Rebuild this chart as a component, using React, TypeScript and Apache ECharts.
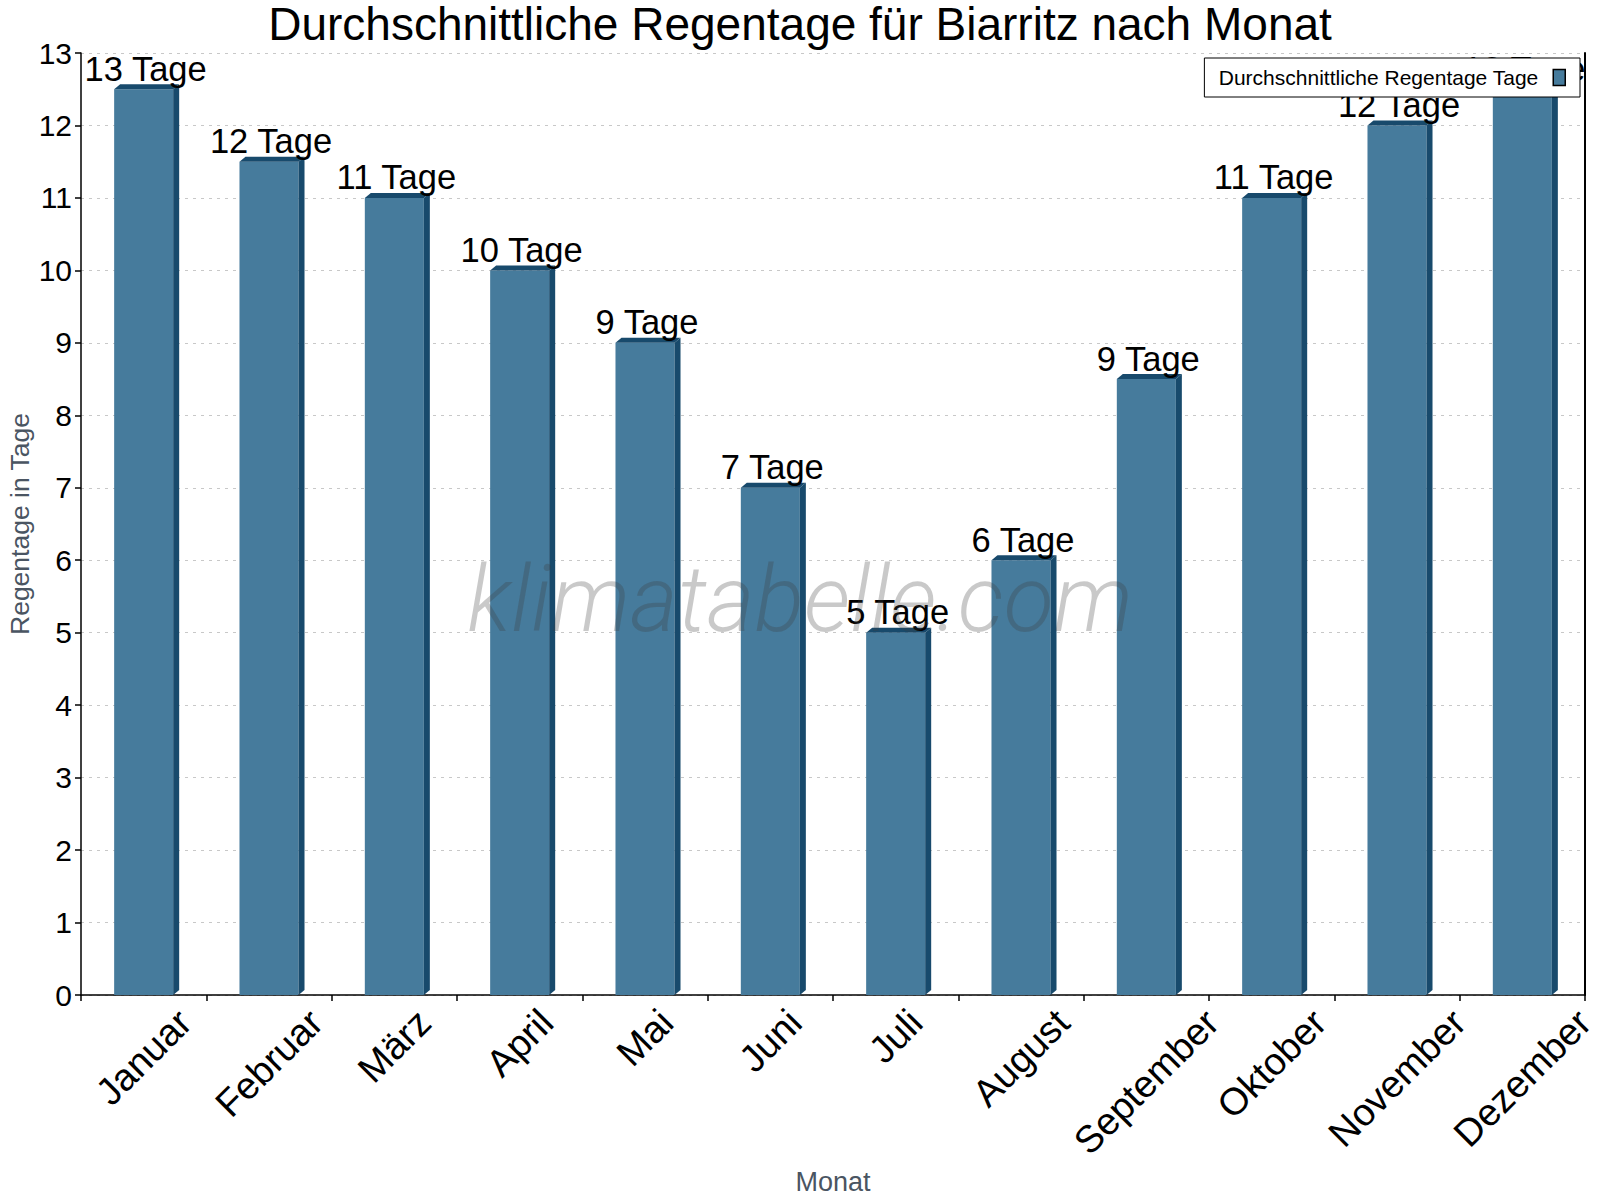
import React, { useEffect, useRef } from 'react';
import * as echarts from 'echarts';

const months = [
  'Januar', 'Februar', 'März', 'April', 'Mai', 'Juni',
  'Juli', 'August', 'September', 'Oktober', 'November', 'Dezember',
];
const rainDays = [12.5, 11.5, 11, 10, 9, 7, 5, 6, 8.5, 11, 12, 12.5];
const dayLabels = [
  '13 Tage', '12 Tage', '11 Tage', '10 Tage', '9 Tage', '7 Tage',
  '5 Tage', '6 Tage', '9 Tage', '11 Tage', '12 Tage', '13 Tage',
];
const yTicks = [0, 13, 1]; // min, max, interval

const seriesName = 'Durchschnittliche Regentage Tage';
const FRONT = '#467b9c';
const DARK = '#184a6c';
const FONT = '"Liberation Sans", Arial, sans-serif';
const MONTH_FONT = 38;

// Textbreite messen (für die gedrehten Monatsnamen)
let measureCtx: CanvasRenderingContext2D | null = null;
function textWidth(text: string, size: number) {
  if (!measureCtx) measureCtx = document.createElement('canvas').getContext('2d');
  if (!measureCtx) return text.length * size * 0.55;
  measureCtx.font = `${size}px ${FONT}`;
  return measureCtx.measureText(text).width;
}

const App: React.FC = () => {
  const chartRef = useRef<HTMLDivElement>(null);

  useEffect(() => {
    document.body.style.margin = '0';
    if (!chartRef.current) return;
    const chart = echarts.init(chartRef.current, null, { renderer: 'svg' });

    // 3D-Balken: Vorderseite, rechte Seite, Oberseite + Beschriftungen
    const renderBar = (params: any, api: any) => {
      const idx = api.value(0);
      const top = api.coord([idx, api.value(1)]);
      const base = api.coord([idx, 0]);
      const band = api.size([1, 0])[0];
      const w = band * 0.471;
      const dx = 6;
      const dy = 5;
      const left = top[0] - w / 2;
      const right = left + w;
      // gedrehter Monatsname: Umriss mittig unter der Kategorie, Oberkante fest
      const tw = textWidth(months[idx], MONTH_FONT);
      const th = MONTH_FONT * 0.9;
      const half = 0.3536 * (tw + th);
      return {
        type: 'group',
        children: [
          {
            type: 'rect',
            shape: { x: left, y: top[1], width: w, height: base[1] - top[1] },
            style: { fill: FRONT },
          },
          {
            type: 'polygon',
            shape: {
              points: [
                [right, top[1]],
                [right + dx, top[1] - dy],
                [right + dx, base[1] - dy],
                [right, base[1]],
              ],
            },
            style: { fill: DARK },
          },
          {
            type: 'polygon',
            shape: {
              points: [
                [left, top[1]],
                [left + dx, top[1] - dy],
                [right + dx, top[1] - dy],
                [right, top[1]],
              ],
            },
            style: { fill: DARK },
          },
          {
            type: 'text',
            style: {
              text: dayLabels[idx],
              x: left + w / 2 + 2,
              y: top[1] - 3,
              align: 'center',
              verticalAlign: 'bottom',
              fill: '#000',
              fontSize: 34.5,
              fontFamily: FONT,
            },
          },
          {
            type: 'text',
            x: base[0],
            y: base[1] + 9 + half,
            rotation: Math.PI / 4,
            style: {
              text: months[idx],
              align: 'center',
              verticalAlign: 'middle',
              fill: '#000',
              fontSize: MONTH_FONT,
              fontFamily: FONT,
            },
          },
        ],
      };
    };

    const option = {
      animation: false,
      backgroundColor: '#fff',
      title: {
        text: 'Durchschnittliche Regentage für Biarritz nach Monat',
        left: 'center',
        top: 1,
        padding: 0,
        textStyle: { fontSize: 46, fontWeight: 'normal', color: '#000', fontFamily: FONT },
      },
      legend: {
        data: [
          {
            name: seriesName,
            icon: 'rect',
            itemStyle: { color: FRONT, borderColor: '#000', borderWidth: 1.5 },
          },
        ],
        right: 20,
        top: 58,
        align: 'right',
        itemWidth: 12,
        itemHeight: 16,
        padding: [9, 14, 9, 14],
        backgroundColor: '#fff',
        borderColor: '#000',
        borderWidth: 1,
        borderRadius: 0,
        selectedMode: false,
        textStyle: { fontSize: 21, color: '#000', fontFamily: FONT, padding: [0, 10, 0, 0] },
      },
      grid: { left: 81, right: 15, top: 53, bottom: 205, outerBoundsMode: 'none' },
      xAxis: {
        type: 'category',
        data: months,
        boundaryGap: true,
        axisLine: { show: true, lineStyle: { color: '#000', width: 1.5 } },
        axisTick: { show: true, length: 6, lineStyle: { color: '#000', width: 1.5 } },
        axisLabel: { show: false },
        splitLine: { show: false },
        name: 'Monat',
        nameLocation: 'middle',
        nameGap: 173,
        nameMoveOverlap: false,
        nameTextStyle: { fontSize: 27, color: '#4a5562', fontFamily: FONT },
      },
      yAxis: [
        {
          type: 'value',
          min: yTicks[0],
          max: yTicks[1],
          interval: yTicks[2],
          axisLine: { show: true, lineStyle: { color: '#000', width: 1.5 } },
          axisTick: { show: true, length: 6, lineStyle: { color: '#000', width: 1.5 } },
          axisLabel: { fontSize: 30, color: '#000', margin: 9, fontFamily: FONT },
          splitLine: { show: true, lineStyle: { color: '#c8c8c8', type: [3, 5], width: 1 } },
          name: 'Regentage in Tage',
          nameLocation: 'middle',
          nameGap: 48,
          nameMoveOverlap: false,
          nameTextStyle: { fontSize: 26.5, color: '#4a5562', fontFamily: FONT },
        },
        {
          type: 'value',
          position: 'right',
          min: yTicks[0],
          max: yTicks[1],
          interval: yTicks[2],
          axisLine: { show: true, lineStyle: { color: '#000', width: 2 } },
          axisTick: { show: false },
          axisLabel: { show: false },
          splitLine: { show: false },
        },
      ],
      graphic: [
        {
          type: 'text',
          z: 3,
          x: 800,
          y: 645,
          style: {
            text: 'klimatabelle.com',
            align: 'center',
            verticalAlign: 'bottom',
            fontSize: 92,
            fontStyle: 'italic',
            fontWeight: 300,
            fontFamily: 'Roboto, "Liberation Sans", sans-serif',
            fill: 'rgba(60,60,60,0.28)',
          },
        },
      ],
      series: [
        {
          name: seriesName,
          type: 'custom',
          xAxisIndex: 0,
          yAxisIndex: 0,
          clip: false,
          itemStyle: { color: FRONT },
          renderItem: renderBar,
          data: rainDays.map((v, i) => [i, v]),
          z: 2,
        },
      ],
    };

    chart.setOption(option);
    const onResize = () => chart.resize();
    window.addEventListener('resize', onResize);
    return () => {
      window.removeEventListener('resize', onResize);
      chart.dispose();
    };
  }, []);

  return <div ref={chartRef} style={{ width: 1600, height: 1200 }} />;
};

export default App;
